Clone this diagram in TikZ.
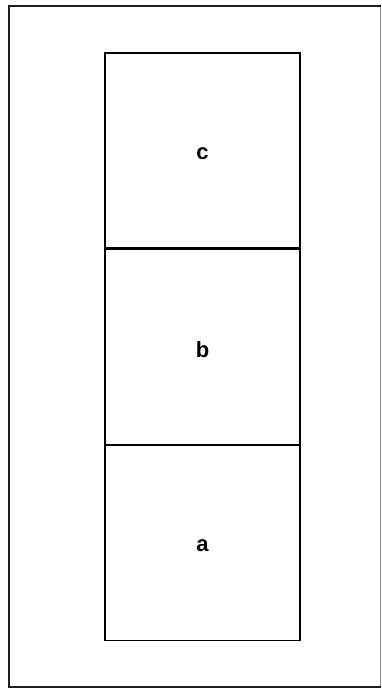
\documentclass[tikz,border=0pt]{standalone}
\usepackage{fontspec}
\setmainfont{Liberation Sans}
\usepackage{tikz}
\usetikzlibrary{positioning}
\definecolor{frameink}{HTML}{1E1E1E}
\definecolor{edgegrey}{HTML}{8C8C8C}
\tikzset{
  cellbox/.style={
    rectangle, draw=black, line width=1.3pt,
    minimum width=195pt, minimum height=195pt, inner sep=0pt
  },
  celltext/.style={font=\fontsize{22}{22}\selectfont\bfseries, yshift=-3pt},
  frameline/.style={line width=2.2pt, color=frameink},
  edgeline/.style={line width=0.8pt, color=edgegrey},
}

\begin{document}
\begin{tikzpicture}[x=1pt, y=1pt]
  \useasboundingbox (0,0) rectangle (382,690);
  % outer frame
  \coordinate (ftl) at (9,684);
  \coordinate (fbl) at (9,3);
  \coordinate (ftr) at (380.5,684);
  \coordinate (fbr) at (380.5,3);
  \draw[edgeline] (ftr) -- (fbr);
  \draw[frameline] (ftr) -- (ftl) -- (fbl) -- (fbr);

  % stacked cells
  \node[cellbox, label={[celltext]center:c}] (cbox) at (202.5,539.5) {};
  \node[cellbox, below=0pt of cbox, label={[celltext]center:b}] (bbox) {};
  \node[cellbox, below=0pt of bbox, label={[celltext]center:a}] (abox) {};
\end{tikzpicture}
\end{document}
